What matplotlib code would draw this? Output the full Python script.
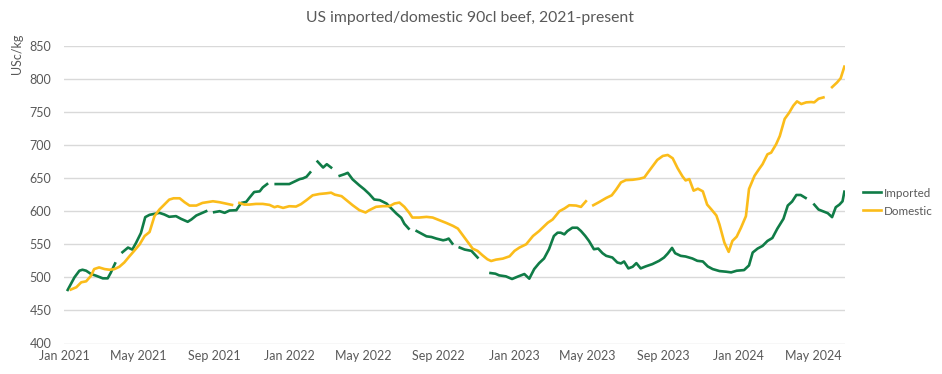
import matplotlib
matplotlib.use('Agg')
import matplotlib.pyplot as plt
import matplotlib.dates as mdates
import numpy as np
import pandas as pd

# ---------------- data ----------------
title = "US imported/domestic 90cl beef, 2021-present"
y_label = "USc/kg"
series_names = ["Imported", "Domestic"]

imported_dates = [
    '2021-01-06', '2021-01-17', '2021-01-25', '2021-01-30', '2021-02-05', '2021-02-13', '2021-02-21', '2021-03-04', '2021-03-12', '2021-03-17', '2021-03-24',
    '2021-03-30',
    '2021-04-05', '2021-04-14', '2021-04-21', '2021-04-27', '2021-05-05', '2021-05-12', '2021-05-19', '2021-06-04', '2021-06-12', '2021-06-20', '2021-07-01', '2021-07-09', '2021-07-20', '2021-07-26', '2021-08-03', '2021-08-13', '2021-08-19',
    '2021-08-26',
    '2021-09-01', '2021-09-10', '2021-09-18', '2021-09-26', '2021-10-07', '2021-10-15', '2021-10-23', '2021-10-28', '2021-11-05', '2021-11-14', '2021-11-19', '2021-11-26',
    '2021-12-03',
    '2021-12-10', '2021-12-22', '2022-01-01', '2022-01-10', '2022-01-18', '2022-01-23', '2022-01-29', '2022-02-04',
    '2022-02-10',
    '2022-02-16', '2022-02-25', '2022-03-03', '2022-03-10',
    '2022-03-17',
    '2022-03-24', '2022-04-01', '2022-04-06', '2022-04-14', '2022-04-25', '2022-05-03', '2022-05-11', '2022-05-19', '2022-05-28', '2022-06-08', '2022-06-16', '2022-06-24', '2022-07-02', '2022-07-07', '2022-07-14',
    '2022-07-20',
    '2022-07-27', '2022-08-04', '2022-08-12', '2022-08-20', '2022-08-28', '2022-09-08', '2022-09-13', '2022-09-17', '2022-09-23',
    '2022-09-29',
    '2022-10-05', '2022-10-13', '2022-10-24', '2022-11-03',
    '2022-11-14',
    '2022-11-24', '2022-12-02', '2022-12-08', '2022-12-19', '2022-12-29', '2023-01-07', '2023-01-18', '2023-01-26', '2023-02-03', '2023-02-11',
    '2023-02-19', '2023-02-27', '2023-03-07', '2023-03-13', '2023-03-18', '2023-03-24', '2023-03-29', '2023-04-06', '2023-04-14', '2023-04-20',
    '2023-04-27', '2023-05-03', '2023-05-11', '2023-05-18', '2023-05-25', '2023-05-31', '2023-06-10', '2023-06-18', '2023-06-24', '2023-06-29',
    '2023-07-06', '2023-07-13', '2023-07-19', '2023-07-26', '2023-08-03', '2023-08-14', '2023-08-25', '2023-09-02', '2023-09-08', '2023-09-15',
    '2023-09-20', '2023-09-29', '2023-10-07', '2023-10-18', '2023-10-26', '2023-11-04', '2023-11-12', '2023-11-20', '2023-12-01', '2023-12-12',
    '2023-12-20', '2023-12-29', '2024-01-10', '2024-01-18', '2024-01-24', '2024-02-01', '2024-02-09', '2024-02-17', '2024-02-25', '2024-03-04',
    '2024-03-14', '2024-03-21', '2024-03-28', '2024-04-04', '2024-04-11', '2024-04-19',
    '2024-04-26',
    '2024-05-03', '2024-05-10', '2024-05-18', '2024-05-25', '2024-06-01', '2024-06-07', '2024-06-13', '2024-06-18', '2024-06-21',
]
imported_values = [
    481, 500, 510, 511.5, 510, 505, 502.5, 498.5, 498.5, 507, 521,
    None,
    538, 545, 542, 552, 567, 591, 594.5, 597.5, 595, 591.5, 592.5, 588.5, 584, 587.5, 593.5, 597.5, 600,
    None,
    598.5, 600, 597.5, 601, 601.5, 612.5, 614, 620, 629, 630, 636, 641,
    None,
    641, 641, 641, 645, 648.5, 649.5, 652, 658.6,
    None,
    675, 666, 671, 666,
    None,
    653.5, 656, 658, 648, 639, 633, 626, 617.7, 616.7, 611.6, 604, 596.5, 590, 581, 573.7,
    None,
    570, 566, 562, 561, 558.6, 556, 557, 558.6, 551,
    None,
    545, 542, 540, 530,
    None,
    506.5, 505.5, 503, 501.5, 497.5, 501, 505, 498, 512.5, 521.5,
    528.5, 542.5, 562.5, 567.5, 567.5, 565, 570, 575, 575, 570,
    562.5, 555, 542.5, 543.5, 536.5, 532.5, 530, 522.5, 521, 524,
    513.5, 516, 521.5, 513.5, 516.5, 520, 525, 530, 536, 544.5,
    536.5, 532.5, 531.5, 528.5, 525, 524, 516.5, 512.5, 509.5, 508.5,
    507.5, 510, 511, 518, 537.5, 543.5, 547.5, 555, 559.5, 573.5,
    588.5, 608.5, 614.5, 624.5, 624.5, 620,
    None,
    610, 602.5, 599.5, 597, 591, 606, 610, 615, 629.5,
]

domestic_dates = [
    '2021-01-11', '2021-01-20', '2021-01-28', '2021-02-05', '2021-02-13', '2021-02-18', '2021-02-26', '2021-03-07', '2021-03-15', '2021-03-23',
    '2021-03-31', '2021-04-08', '2021-04-16', '2021-04-24', '2021-05-03', '2021-05-11', '2021-05-19', '2021-05-27', '2021-06-04', '2021-06-12',
    '2021-06-20', '2021-06-27', '2021-07-07', '2021-07-15', '2021-07-23', '2021-08-03', '2021-08-13', '2021-08-30', '2021-09-10', '2021-09-20',
    '2021-09-30',
    '2021-10-06',
    '2021-10-12', '2021-10-20', '2021-10-28', '2021-11-08', '2021-11-19', '2021-11-30', '2021-12-08', '2021-12-13', '2021-12-22', '2022-01-01',
    '2022-01-12', '2022-01-20', '2022-01-29', '2022-02-08', '2022-02-19', '2022-03-02', '2022-03-10', '2022-03-16', '2022-03-27', '2022-04-04',
    '2022-04-14', '2022-04-25', '2022-05-05', '2022-05-11', '2022-05-22', '2022-06-02', '2022-06-13', '2022-06-21', '2022-06-29', '2022-07-07',
    '2022-07-15', '2022-07-20', '2022-07-31', '2022-08-12', '2022-08-22', '2022-09-02', '2022-09-13', '2022-09-24', '2022-10-02', '2022-10-10',
    '2022-10-18', '2022-10-26', '2022-11-03', '2022-11-11', '2022-11-19', '2022-11-25', '2022-12-03', '2022-12-14', '2022-12-25', '2023-01-02',
    '2023-01-10', '2023-01-21', '2023-02-01', '2023-02-11', '2023-02-25', '2023-03-05', '2023-03-16', '2023-03-24', '2023-04-01', '2023-04-12',
    '2023-04-20', '2023-04-28',
    '2023-05-04',
    '2023-05-10', '2023-05-19', '2023-05-31', '2023-06-09', '2023-06-16', '2023-06-24', '2023-07-02', '2023-07-13', '2023-07-24', '2023-08-01',
    '2023-08-06', '2023-08-14', '2023-08-22', '2023-08-31', '2023-09-08', '2023-09-16', '2023-09-24', '2023-10-02', '2023-10-07', '2023-10-13',
    '2023-10-20', '2023-10-27', '2023-11-04', '2023-11-11', '2023-11-18', '2023-11-26', '2023-12-01', '2023-12-09', '2023-12-16', '2023-12-22',
    '2023-12-29', '2024-01-05', '2024-01-13', '2024-01-18', '2024-01-27', '2024-02-04', '2024-02-09', '2024-02-17', '2024-02-23', '2024-03-02',
    '2024-03-08', '2024-03-16', '2024-03-23', '2024-03-30', '2024-04-05', '2024-04-12', '2024-04-20', '2024-04-28', '2024-05-03', '2024-05-10',
    '2024-05-18',
    '2024-05-25',
    '2024-06-01', '2024-06-09', '2024-06-15', '2024-06-21',
]
domestic_values = [
    481.5, 485, 492.5, 494, 502.5, 512.5, 515, 512.5, 511.5, 512.5,
    516, 522.5, 531.5, 540, 550, 562.5, 568.5, 592.5, 602.5, 610,
    617.5, 619.5, 619.5, 613.5, 608.5, 608.5, 612.5, 615, 613.5, 611.5,
    609.5,
    None,
    612.5, 610, 610, 611, 611, 609.5, 606, 607.5, 605, 607.5,
    607, 610.6, 616.7, 624, 626, 627, 628, 625, 622.7, 616.7,
    609, 601.5, 598, 601.5, 606.6, 607.6, 607.6, 611.6, 613, 606.6,
    597.5, 590.4, 590.4, 591.4, 590.4, 586.4, 582.3, 577.8, 573.7, 563.6,
    553.5, 543.4, 540, 533.3, 527.3, 524.7, 526.8, 528.3, 531.8, 540,
    545, 550, 562.5, 570, 582.5, 587.5, 600, 604, 609, 608.5,
    606.5, 615,
    None,
    609, 613.5, 620, 624, 632.5, 643.5, 647, 647.5, 649, 651,
    657.5, 667.5, 677.5, 683.5, 685, 680, 665, 652.5, 646.5, 648.5,
    631, 634, 630, 610, 602.5, 593.5, 580, 552.5, 538.5, 555,
    561.5, 575, 592.5, 633.5, 653.5, 664.5, 671, 686, 688.5, 701,
    713.5, 739.5, 748.5, 759.5, 766, 762, 764.5, 765, 764.5, 770,
    772,
    None,
    787.5, 794.5, 801, 818.5,
]

y_ticks = [400, 450, 500, 550, 600, 650, 700, 750, 800, 850]
x_range = ['2020-12-31', '2024-06-22']

# ---------------- styling ----------------
plt.rcParams['font.family'] = ['Lato', 'DejaVu Sans']
text_color = '#595959'
green = '#107C47'
gold = '#FBBC1A'

W, H = 942, 374
fig = plt.figure(figsize=(W / 100, H / 100), dpi=100)
left, right, top, bottom = 64, 845, 45.8, 343.5
ax = fig.add_axes([left / W, 1 - bottom / H, (right - left) / W, (bottom - top) / H])

def to_arr(vals):
    return np.array([np.nan if v is None else v for v in vals], dtype=float)

ax.plot(pd.to_datetime(imported_dates), to_arr(imported_values), color=green, lw=1.9,
        solid_joinstyle='round', label=series_names[0])
ax.plot(pd.to_datetime(domestic_dates), to_arr(domestic_values), color=gold, lw=1.9,
        solid_joinstyle='round', label=series_names[1])

ax.set_ylim(y_ticks[0], y_ticks[-1])
ax.set_yticks(y_ticks)
ax.set_xlim(pd.Timestamp(x_range[0]), pd.Timestamp(x_range[1]))
ax.xaxis.set_major_locator(mdates.MonthLocator(bymonth=[1, 5, 9]))
ax.xaxis.set_major_formatter(mdates.DateFormatter('%b %Y'))

ax.yaxis.grid(True, color='#d9d9d9', lw=1)
ax.set_axisbelow(True)
for s in ax.spines.values():
    s.set_visible(False)
ax.tick_params(axis='both', length=0, labelcolor=text_color, labelsize=9)
ax.tick_params(axis='y', pad=9)
ax.tick_params(axis='x', pad=5)

fig.text(470 / W, 1 - 18 / H, title, ha='center', va='center', fontsize=11.3, color=text_color)
fig.text(17 / W, 1 - 54 / H, y_label, ha='center', va='center', rotation=90, fontsize=9, color=text_color)

ax.legend(loc='center left', bbox_to_anchor=(852 / W, 1 - 202 / H), bbox_transform=fig.transFigure,
          frameon=False, handlelength=1.6, handletextpad=0.25, labelspacing=0.6, fontsize=8.4,
          labelcolor=text_color)

fig.savefig('out.png', dpi=100)
